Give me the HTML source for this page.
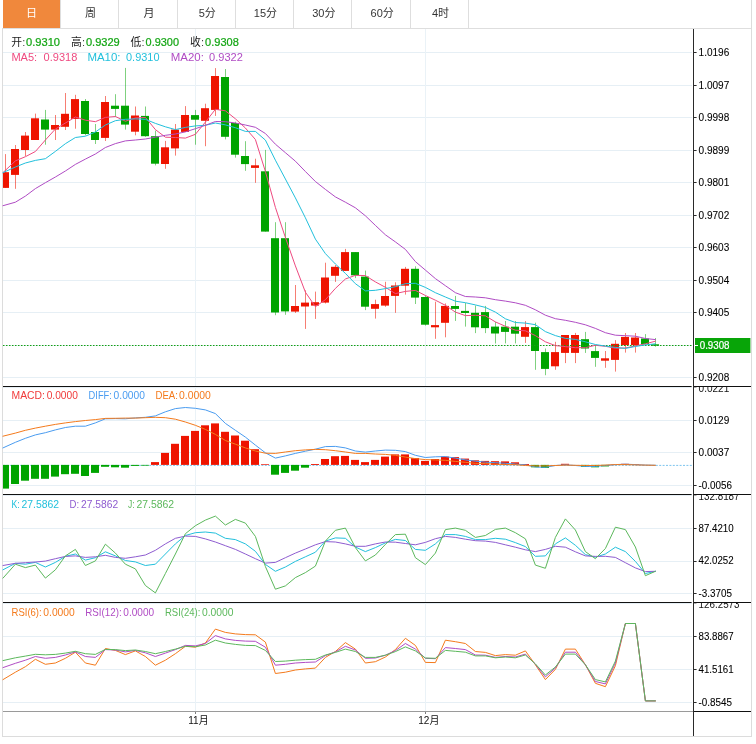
<!DOCTYPE html>
<html lang="zh-CN"><head><meta charset="utf-8"><title>K线图</title>
<style>
html,body{margin:0;padding:0;background:#fff}
body{width:756px;height:744px;overflow:hidden;position:relative;font-family:"Liberation Sans","Noto Sans CJK SC",sans-serif}
#box{position:absolute;left:2px;top:28px;width:748px;height:708px;border:1px solid #dcdcdc;border-top:none}
#rb{position:absolute;left:751px;top:0;width:1px;height:28px;background:#dcdcdc}
#tabs{position:absolute;left:3px;top:0;width:748px;height:29px;border-bottom:1px solid #dedede;box-sizing:border-box}
#tabs div{position:absolute;top:0;width:58.4px;height:28px;line-height:27px;padding-left:2px;text-align:center;font-size:11px;color:#333;border-right:1px solid #dedede;box-sizing:border-box}
#tabs div.on{background:#f0883c;color:#fff;left:0!important;width:58px;padding-left:0}
svg{position:absolute;left:0;top:0}
</style></head><body>
<div id="box"></div><div id="rb"></div>
<div id="tabs"><div class="on" style="left:-0.5px">日</div><div style="left:57.8px">周</div><div style="left:116.2px">月</div><div style="left:174.5px">5分</div><div style="left:232.8px">15分</div><div style="left:291.1px">30分</div><div style="left:349.5px">60分</div><div style="left:407.8px">4时</div></div>
<svg width="756" height="744" viewBox="0 0 756 744">
<defs>
<clipPath id="c1"><rect x="-5" y="387.1" width="70" height="20"/></clipPath>
<clipPath id="c2"><rect x="-5" y="495.1" width="70" height="20"/></clipPath>
<clipPath id="c3"><rect x="-5" y="603.1" width="70" height="20"/></clipPath>
</defs>
<g fill="#e6eff5"><rect x="3" y="52" width="689" height="1"/><rect x="3" y="85" width="689" height="1"/><rect x="3" y="117" width="689" height="1"/><rect x="3" y="150" width="689" height="1"/><rect x="3" y="182" width="689" height="1"/><rect x="3" y="215" width="689" height="1"/><rect x="3" y="247" width="689" height="1"/><rect x="3" y="280" width="689" height="1"/><rect x="3" y="312" width="689" height="1"/><rect x="3" y="345" width="689" height="1"/><rect x="3" y="377" width="689" height="1"/><rect x="3" y="387" width="689" height="1"/><rect x="3" y="420" width="689" height="1"/><rect x="3" y="452" width="689" height="1"/><rect x="3" y="485" width="689" height="1"/><rect x="3" y="495" width="689" height="1"/><rect x="3" y="528" width="689" height="1"/><rect x="3" y="561" width="689" height="1"/><rect x="3" y="593" width="689" height="1"/><rect x="3" y="603" width="689" height="1"/><rect x="3" y="636" width="689" height="1"/><rect x="3" y="669" width="689" height="1"/><rect x="3" y="702" width="689" height="1"/><rect x="195" y="29" width="1" height="682" fill="#eaf2f7"/><rect x="425" y="29" width="1" height="682" fill="#eaf2f7"/></g>
<g fill="#ee1400" fill-opacity=".55"><rect x="5" y="154.1" width="1" height="33.8"/><rect x="15" y="145" width="1" height="43.8"/><rect x="25" y="132" width="1" height="24"/><rect x="35" y="113.6" width="1" height="26.4"/><rect x="55" y="115" width="1" height="25"/><rect x="65" y="93" width="1" height="37"/><rect x="75" y="94.8" width="1" height="33.9"/><rect x="105" y="96" width="1" height="45"/><rect x="135" y="106.5" width="1" height="28.8"/><rect x="165" y="140.9" width="1" height="27.9"/><rect x="175" y="124" width="1" height="31.6"/><rect x="185" y="106.1" width="1" height="25.8"/><rect x="205" y="103.7" width="1" height="42.5"/><rect x="215" y="68.1" width="1" height="47.8"/><rect x="255" y="158.7" width="1" height="24.1"/><rect x="295" y="285" width="1" height="28"/><rect x="305" y="290.3" width="1" height="38.6"/><rect x="315" y="291.6" width="1" height="27.3"/><rect x="325" y="262.7" width="1" height="40.8"/><rect x="335" y="265" width="1" height="16.9"/><rect x="345" y="248.9" width="1" height="22"/><rect x="375" y="299.7" width="1" height="18.9"/><rect x="385" y="281.8" width="1" height="25"/><rect x="395" y="282.3" width="1" height="30.5"/><rect x="405" y="266.9" width="1" height="27.7"/><rect x="435" y="301.7" width="1" height="37.1"/><rect x="445" y="303.4" width="1" height="33.9"/><rect x="525" y="321.1" width="1" height="21.8"/><rect x="555" y="341.8" width="1" height="28"/><rect x="565" y="335" width="1" height="28.1"/><rect x="575" y="332.9" width="1" height="30.2"/><rect x="605" y="351" width="1" height="16.8"/><rect x="615" y="340.1" width="1" height="31.5"/><rect x="625" y="333" width="1" height="19.6"/><rect x="635" y="333" width="1" height="19.6"/></g>
<g fill="#00a400" fill-opacity=".5"><rect x="45" y="109.9" width="1" height="34.8"/><rect x="85" y="99" width="1" height="36.3"/><rect x="95" y="124" width="1" height="20"/><rect x="115" y="94.2" width="1" height="22.8"/><rect x="125" y="67.9" width="1" height="61.7"/><rect x="145" y="106.5" width="1" height="30.3"/><rect x="155" y="130.6" width="1" height="34.8"/><rect x="195" y="109.9" width="1" height="34.8"/><rect x="225" y="69" width="1" height="70.4"/><rect x="235" y="121.7" width="1" height="35.9"/><rect x="245" y="141.2" width="1" height="29.6"/><rect x="265" y="149.9" width="1" height="81.7"/><rect x="275" y="222.2" width="1" height="93"/><rect x="285" y="222.2" width="1" height="92.6"/><rect x="355" y="252.1" width="1" height="26"/><rect x="365" y="270.6" width="1" height="39.5"/><rect x="415" y="266.3" width="1" height="37.7"/><rect x="425" y="295.5" width="1" height="30.1"/><rect x="455" y="295.9" width="1" height="25"/><rect x="465" y="303" width="1" height="23.6"/><rect x="475" y="305.5" width="1" height="27.6"/><rect x="485" y="305.9" width="1" height="27.2"/><rect x="495" y="321.9" width="1" height="21.6"/><rect x="505" y="321" width="1" height="22.4"/><rect x="515" y="321" width="1" height="22.4"/><rect x="535" y="322.7" width="1" height="47.1"/><rect x="545" y="348.5" width="1" height="26.7"/><rect x="585" y="331.9" width="1" height="21"/><rect x="595" y="345.3" width="1" height="21.5"/><rect x="645" y="334.1" width="1" height="10.2"/><rect x="655" y="338" width="1" height="8.7"/></g>
<g fill="#ee1400"><rect x="3" y="172.2" width="6" height="15.7"/><rect x="11" y="149" width="8" height="25.9"/><rect x="21" y="135.6" width="8" height="14.4"/><rect x="31" y="118.3" width="8" height="21.7"/><rect x="51" y="125" width="8" height="4.6"/><rect x="61" y="113.8" width="8" height="13"/><rect x="71" y="99.1" width="8" height="19.8"/><rect x="101" y="102" width="8" height="35.9"/><rect x="131" y="115.5" width="8" height="16.2"/><rect x="161" y="147.3" width="8" height="16.7"/><rect x="171" y="129.6" width="8" height="18.8"/><rect x="181" y="115" width="8" height="16.9"/><rect x="201" y="108.2" width="8" height="12.6"/><rect x="211" y="76" width="8" height="33.9"/><rect x="251" y="165.3" width="8" height="2.6"/><rect x="291" y="306" width="8" height="5.6"/><rect x="301" y="302.6" width="8" height="3.9"/><rect x="311" y="302.2" width="8" height="3.4"/><rect x="321" y="277.5" width="8" height="25.1"/><rect x="331" y="266.8" width="8" height="9"/><rect x="341" y="252.1" width="8" height="18.8"/><rect x="371" y="304.1" width="8" height="4.7"/><rect x="381" y="296" width="8" height="9.6"/><rect x="391" y="285.5" width="8" height="10.4"/><rect x="401" y="268.8" width="8" height="16.9"/><rect x="431" y="325.1" width="8" height="2.2"/><rect x="441" y="305.9" width="8" height="16.9"/><rect x="521" y="327.1" width="8" height="9.7"/><rect x="551" y="352.1" width="8" height="14.2"/><rect x="561" y="335" width="8" height="17.9"/><rect x="571" y="335" width="8" height="17.9"/><rect x="601" y="358.3" width="8" height="2.4"/><rect x="611" y="343.8" width="8" height="16.1"/><rect x="621" y="336.9" width="8" height="8.2"/><rect x="631" y="337.5" width="8" height="7.6"/></g>
<g fill="#00a400"><rect x="41" y="119.5" width="8" height="10.1"/><rect x="81" y="101" width="8" height="33"/><rect x="91" y="132" width="8" height="8"/><rect x="111" y="105.7" width="8" height="3.2"/><rect x="121" y="105.7" width="8" height="18.9"/><rect x="141" y="115.9" width="8" height="20.3"/><rect x="151" y="136.2" width="8" height="27.5"/><rect x="191" y="115.1" width="8" height="4.6"/><rect x="221" y="77" width="8" height="59.8"/><rect x="231" y="123" width="8" height="31.7"/><rect x="241" y="156" width="8" height="8.1"/><rect x="261" y="171.3" width="8" height="60.3"/><rect x="271" y="238.2" width="8" height="74.3"/><rect x="281" y="238.2" width="8" height="73.2"/><rect x="351" y="252.1" width="8" height="23.2"/><rect x="361" y="276.6" width="8" height="30.1"/><rect x="411" y="268.8" width="8" height="28.8"/><rect x="421" y="297" width="8" height="27.7"/><rect x="451" y="306" width="8" height="2.9"/><rect x="461" y="310.9" width="8" height="2.1"/><rect x="471" y="312.8" width="8" height="14.5"/><rect x="481" y="312.1" width="8" height="16"/><rect x="491" y="326.6" width="8" height="6.9"/><rect x="501" y="326.7" width="8" height="5.2"/><rect x="511" y="326.7" width="8" height="7"/><rect x="531" y="327.1" width="8" height="23.9"/><rect x="541" y="352.1" width="8" height="16.8"/><rect x="581" y="339.2" width="8" height="9.3"/><rect x="591" y="351.1" width="8" height="6.8"/><rect x="641" y="338.5" width="8" height="5.8"/><rect x="651" y="344.3" width="8" height="1.4"/></g>
<line x1="3" y1="345.5" x2="693" y2="345.5" stroke="#12a012" stroke-width="1" stroke-dasharray="1.5 1.5"/>
<g fill="none" stroke-linejoin="round" stroke-linecap="round">
<polyline points="3,172.6 15.4,160.9 25.4,156.7 35.4,151.5 45.4,140 55.4,129 65.4,123 75.4,117 85.4,120.2 95.4,121.7 105.4,117.4 115.4,116.5 125.4,121.2 135.4,118 145.4,117.4 155.4,129.6 165.4,137.2 175.4,137.5 185.4,138.1 195.4,134.3 205.4,122.1 215.4,109.3 225.4,110.8 235.4,118.8 245.4,128 255.4,139.5 265.4,171.5 275.4,207.4 285.4,237.5 295.4,265.9 305.4,292.2 315.4,306.7 325.4,299.7 335.4,288.4 345.4,279 355.4,275.3 365.4,275.6 375.4,281.9 385.4,287.3 395.4,293.6 405.4,291.4 415.4,290.4 425.4,295.5 435.4,300.2 445.4,305.3 455.4,312.1 465.4,315.6 475.4,315.3 485.4,315.8 495.4,321.9 505.4,326.3 515.4,330.2 525.4,330.8 535.4,335.6 545.4,341.8 555.4,345.6 565.4,346.6 575.4,347.7 585.4,347.7 595.4,345.3 605.4,346.3 615.4,348.2 625.4,348 635.4,345.9 645.4,343.8 655.4,341.2" stroke="#ee4a80" stroke-width="1"/>
<polyline points="3,172.6 15.4,167 25.4,163 35.4,160.4 45.4,158.7 55.4,151.4 65.4,143.7 75.4,137.5 85.4,136.2 95.4,132 105.4,125 115.4,120.7 125.4,119.3 135.4,118.9 145.4,119.3 155.4,123.4 165.4,126.8 175.4,129.6 185.4,127.4 195.4,125.9 205.4,125.3 215.4,123 225.4,124.9 235.4,127.7 245.4,131.4 255.4,131.4 265.4,140.1 275.4,160.2 285.4,179 295.4,197.9 305.4,217.8 315.4,239.1 325.4,253.6 335.4,264 345.4,273.4 355.4,283.7 365.4,290.9 375.4,290.3 385.4,288.6 395.4,286.7 405.4,283.7 415.4,283.3 425.4,287.4 435.4,292.7 445.4,297 455.4,301.2 465.4,302.7 475.4,304.9 485.4,307.4 495.4,312.1 505.4,318.8 515.4,322.5 525.4,323.1 535.4,324.7 545.4,331.6 555.4,335.6 565.4,338.4 575.4,339.4 585.4,341.8 595.4,344.5 605.4,346.1 615.4,347.4 625.4,348.4 635.4,346.5 645.4,344.9 655.4,343.8" stroke="#22c0dc" stroke-width="1"/>
<polyline points="3,205.7 15.4,202.2 25.4,196.1 35.4,188.6 45.4,182.7 55.4,177 65.4,171 75.4,164.4 85.4,159.1 95.4,154 105.4,147.5 115.4,143.6 125.4,140.9 135.4,140 145.4,139 155.4,137.2 165.4,135.3 175.4,134 185.4,131.9 195.4,128.7 205.4,125.3 215.4,121.5 225.4,121.7 235.4,123 245.4,125 255.4,127.3 265.4,133.5 275.4,144.2 285.4,152.7 295.4,161.2 305.4,171.5 315.4,181.5 325.4,189.4 335.4,196.9 345.4,202.2 355.4,207.8 365.4,215.8 375.4,225.4 385.4,234.8 395.4,241.9 405.4,249.4 415.4,261.6 425.4,270.1 435.4,278.6 445.4,285.7 455.4,292.7 465.4,296.5 475.4,297 485.4,297.8 495.4,299.7 505.4,301.1 515.4,302.8 525.4,305.3 535.4,309.8 545.4,315.2 555.4,318.7 565.4,320.3 575.4,322.3 585.4,324.8 595.4,328.4 605.4,332.7 615.4,335.2 625.4,335.7 635.4,336.2 645.4,338.5 655.4,339.6" stroke="#b04cc4" stroke-width="1"/>
</g>
<line x1="3" y1="465.4" x2="693" y2="465.4" stroke="#7cc4ee" stroke-width="1" stroke-dasharray="2 1.4"/>
<g fill="#ee1400"><rect x="151" y="462.1" width="8" height="2.8"/><rect x="161" y="452.9" width="8" height="12"/><rect x="171" y="443.8" width="8" height="21.1"/><rect x="181" y="435.9" width="8" height="29"/><rect x="191" y="430.9" width="8" height="34"/><rect x="201" y="425.3" width="8" height="39.6"/><rect x="211" y="423.4" width="8" height="41.5"/><rect x="221" y="431.8" width="8" height="33.1"/><rect x="231" y="435.5" width="8" height="29.4"/><rect x="241" y="440.7" width="8" height="24.2"/><rect x="251" y="449.2" width="8" height="15.7"/><rect x="261" y="464.2" width="8" height="0.7"/><rect x="311" y="464" width="8" height="0.9"/><rect x="321" y="459" width="8" height="5.9"/><rect x="331" y="456.2" width="8" height="8.7"/><rect x="341" y="455.9" width="8" height="9"/><rect x="351" y="459.9" width="8" height="5"/><rect x="361" y="462.1" width="8" height="2.8"/><rect x="371" y="459.9" width="8" height="5"/><rect x="381" y="456.6" width="8" height="8.3"/><rect x="391" y="454.4" width="8" height="10.5"/><rect x="401" y="454.4" width="8" height="10.5"/><rect x="411" y="458.1" width="8" height="6.8"/><rect x="421" y="460.9" width="8" height="4"/><rect x="431" y="459" width="8" height="5.9"/><rect x="441" y="456.6" width="8" height="8.3"/><rect x="451" y="457.1" width="8" height="7.8"/><rect x="461" y="458.6" width="8" height="6.3"/><rect x="471" y="460.3" width="8" height="4.6"/><rect x="481" y="460.9" width="8" height="4"/><rect x="491" y="461.2" width="8" height="3.7"/><rect x="501" y="461.4" width="8" height="3.5"/><rect x="511" y="462.3" width="8" height="2.6"/><rect x="521" y="464" width="8" height="0.9"/><rect x="561" y="463.8" width="8" height="1.1"/><rect x="611" y="464.6" width="8" height="0.3"/><rect x="621" y="463.8" width="8" height="1.1"/><rect x="631" y="464.2" width="8" height="0.7"/></g>
<g fill="#00a400"><rect x="3" y="464.9" width="6" height="23.7"/><rect x="11" y="464.9" width="8" height="19.1"/><rect x="21" y="464.9" width="8" height="15.8"/><rect x="31" y="464.9" width="8" height="13.9"/><rect x="41" y="464.9" width="8" height="13.9"/><rect x="51" y="464.9" width="8" height="11.7"/><rect x="61" y="464.9" width="8" height="9.3"/><rect x="71" y="464.9" width="8" height="8.9"/><rect x="81" y="464.9" width="8" height="11.1"/><rect x="91" y="464.9" width="8" height="8"/><rect x="101" y="464.9" width="8" height="1.9"/><rect x="111" y="464.9" width="8" height="2.4"/><rect x="121" y="464.9" width="8" height="2.8"/><rect x="131" y="464.9" width="8" height="1"/><rect x="141" y="464.9" width="8" height="0.7"/><rect x="271" y="464.9" width="8" height="9.8"/><rect x="281" y="464.9" width="8" height="8"/><rect x="291" y="464.9" width="8" height="5.8"/><rect x="301" y="464.9" width="8" height="2.8"/><rect x="531" y="464.9" width="8" height="2.4"/><rect x="541" y="464.9" width="8" height="3"/><rect x="581" y="464.9" width="8" height="1.9"/><rect x="591" y="464.9" width="8" height="2.4"/><rect x="601" y="464.9" width="8" height="1.5"/></g>
<g fill="none" stroke-linejoin="round" stroke-linecap="round">
<polyline points="3,447.9 15.4,442.3 25.4,438.3 35.4,434.9 45.4,432.7 55.4,429.9 65.4,427.5 75.4,426.2 85.4,426.2 95.4,422.9 105.4,418.8 115.4,418.6 125.4,418.8 135.4,417.9 145.4,417.3 155.4,415.9 165.4,411.8 175.4,408.6 185.4,407.5 195.4,408.3 205.4,409.9 215.4,413.6 225.4,423.4 235.4,430.3 245.4,437.1 255.4,445.1 265.4,452.8 275.4,458.1 285.4,455.9 295.4,453.4 305.4,451.2 315.4,449.2 325.4,446.6 335.4,446.4 345.4,447.9 355.4,451 365.4,452.1 375.4,451 385.4,450.1 395.4,450.3 405.4,451.6 415.4,455.3 425.4,457.5 435.4,456.8 445.4,456.6 455.4,458.1 465.4,459.9 475.4,461.2 485.4,462.1 495.4,462.7 505.4,463.3 515.4,464 525.4,464.9 535.4,467 545.4,467.3 555.4,465.5 565.4,464.9 575.4,465.5 585.4,466.4 595.4,466.4 605.4,465.5 615.4,464.6 625.4,464.2 635.4,464.6 645.4,465.1 655.4,465.3" stroke="#4a9cf0" stroke-width="1"/>
<polyline points="3,436.2 15.4,433.1 25.4,430.3 35.4,428.1 45.4,426.2 55.4,424.4 65.4,422.9 75.4,421.6 85.4,420.5 95.4,419.6 105.4,418.4 115.4,418.3 125.4,418.1 135.4,418.1 145.4,417.7 155.4,417.3 165.4,417.7 175.4,419.2 185.4,422 195.4,425.3 205.4,429.4 215.4,434.4 225.4,440.5 235.4,444.2 245.4,447.9 255.4,451 265.4,453.2 275.4,453.4 285.4,452 295.4,450.7 305.4,449.9 315.4,449.4 325.4,449.7 335.4,450.7 345.4,452 355.4,453.4 365.4,453.4 375.4,454 385.4,454.4 395.4,455.3 405.4,457.1 415.4,458.6 425.4,459.6 435.4,459.9 445.4,460.3 455.4,461.4 465.4,462.3 475.4,463.3 485.4,463.6 495.4,464.2 505.4,464.6 515.4,464.7 525.4,465.5 535.4,465.9 545.4,465.9 555.4,465.5 565.4,465.1 575.4,465.3 585.4,465.5 595.4,465.5 605.4,465.1 615.4,464.6 625.4,464.6 635.4,464.9 645.4,465.1 655.4,465.3" stroke="#f47a1c" stroke-width="1"/>
<polyline points="3,569.8 15.4,563.3 25.4,564.2 35.4,562.4 45.4,567 55.4,562.4 65.4,556.3 75.4,554 85.4,560.1 95.4,557.7 105.4,551.8 115.4,555.9 125.4,560.5 135.4,561.9 145.4,565.5 155.4,564.2 165.4,554 175.4,543.9 185.4,535.5 195.4,532.7 205.4,532 215.4,533.1 225.4,538.3 235.4,539.6 245.4,543.9 255.4,551.3 265.4,564.4 275.4,571.3 285.4,567 295.4,561.4 305.4,556.8 315.4,552.2 325.4,541.1 335.4,537.9 345.4,538.3 355.4,547 365.4,551.6 375.4,547.6 385.4,542.9 395.4,539.4 405.4,540.5 415.4,549.4 425.4,550.3 435.4,543.9 445.4,534.6 455.4,534.6 465.4,536.4 475.4,539.6 485.4,539.6 495.4,538.3 505.4,539.2 515.4,542.6 525.4,546.6 535.4,556.3 545.4,555.9 555.4,543.9 565.4,537.9 575.4,545.3 585.4,554.6 595.4,557.2 605.4,554 615.4,547.2 625.4,551.6 635.4,561.4 645.4,573.5 655.4,571.3" stroke="#22c0dc" stroke-width="1"/>
<polyline points="3,565.5 15.4,563.3 25.4,562.7 35.4,562 45.4,561.1 55.4,558.7 65.4,556.4 75.4,555.9 85.4,557.4 95.4,556.8 105.4,555.3 115.4,557.4 125.4,558.3 135.4,556.8 145.4,555 155.4,550.3 165.4,543.9 175.4,538.3 185.4,536.1 195.4,536.4 205.4,538.9 215.4,542 225.4,545.7 235.4,549.4 245.4,554 255.4,558.7 265.4,563.1 275.4,562.4 285.4,557.7 295.4,553.1 305.4,549 315.4,544.8 325.4,541.6 335.4,542 345.4,543.9 355.4,546.3 365.4,546.3 375.4,543.9 385.4,542 395.4,542.2 405.4,543.5 415.4,544.8 425.4,542.4 435.4,538.7 445.4,536.4 455.4,537.4 465.4,539.2 475.4,540.7 485.4,541.1 495.4,542.4 505.4,544.8 515.4,547.2 525.4,549.8 535.4,551.6 545.4,549.4 555.4,546.3 565.4,547.2 575.4,551.8 585.4,555.9 595.4,556.4 605.4,556.3 615.4,557.4 625.4,562.7 635.4,567.9 645.4,571.6 655.4,571.3" stroke="#8e5cd0" stroke-width="1"/>
<polyline points="3,578.1 15.4,564.2 25.4,567.6 35.4,565.1 45.4,578.1 55.4,569.8 65.4,555.9 75.4,549.4 85.4,565.5 95.4,560.9 105.4,544.2 115.4,553.1 125.4,564.2 135.4,568.9 145.4,585.5 155.4,592.9 165.4,573.5 175.4,554 185.4,533.7 195.4,525.7 205.4,520.1 215.4,516.1 225.4,525 235.4,519.4 245.4,523.1 255.4,536.4 265.4,566.5 275.4,589.2 285.4,585.9 295.4,577.6 305.4,572.6 315.4,566.1 325.4,541.1 335.4,530.3 345.4,528.1 355.4,547.6 365.4,560.9 375.4,555 385.4,544.4 395.4,534.6 405.4,534.2 415.4,557.7 425.4,564.6 435.4,553.1 445.4,529.6 455.4,528.1 465.4,530.3 475.4,537.4 485.4,535.5 495.4,529.4 505.4,528.1 515.4,532.7 525.4,538.8 535.4,565.1 545.4,568.3 555.4,537.4 565.4,518.9 575.4,530 585.4,551.6 595.4,558.7 605.4,548.5 615.4,527.2 625.4,529.6 635.4,547 645.4,575.7 655.4,571.3" stroke="#5cb85c" stroke-width="1"/>
<polyline points="3,679.6 15.4,672.2 25.4,666.7 35.4,659.3 45.4,664.3 55.4,663 65.4,658.3 75.4,652.2 85.4,663 95.4,665.2 105.4,648.5 115.4,650.4 125.4,654.6 135.4,650.9 145.4,656.5 155.4,665.2 165.4,660.2 175.4,653.7 185.4,646.3 195.4,647.2 205.4,643 215.4,629.1 225.4,632.4 235.4,633.9 245.4,634.6 255.4,634.8 265.4,642.1 275.4,673.5 285.4,672.2 295.4,670 305.4,668.9 315.4,668.1 325.4,657.4 335.4,651.5 345.4,642.6 355.4,649.1 365.4,663 375.4,661.7 385.4,657 395.4,649.6 405.4,638.3 415.4,645.4 425.4,662.4 435.4,662.6 445.4,640.2 455.4,641.7 465.4,643.5 475.4,651.5 485.4,652.4 495.4,655.6 505.4,654.6 515.4,655.2 525.4,650.9 535.4,664.8 545.4,679.6 555.4,669.4 565.4,649.1 575.4,649.1 585.4,664.8 595.4,683.3 605.4,686.7 615.4,665.7 625.4,623.5 635.4,623.5 645.4,700.9 655.4,700.9" stroke="#f47a1c" stroke-width="1"/>
<polyline points="3,667.6 15.4,663.3 25.4,660.2 35.4,656.5 45.4,658.3 55.4,657.4 65.4,655 75.4,651.9 85.4,656.5 95.4,657.4 105.4,649.6 115.4,650 125.4,651.9 135.4,650.4 145.4,652.8 155.4,656.5 165.4,653.1 175.4,649.6 185.4,645.4 195.4,645.9 205.4,643.5 215.4,635.6 225.4,638.9 235.4,640.4 245.4,641.1 255.4,641.3 265.4,647.2 275.4,665.2 285.4,664.3 295.4,663 305.4,662.4 315.4,662 325.4,655.6 335.4,651.9 345.4,646.3 355.4,650 365.4,658.3 375.4,658 385.4,655.2 395.4,650.6 405.4,643.5 415.4,649.1 425.4,658.3 435.4,658.7 445.4,647.6 455.4,648.5 465.4,649.6 475.4,655 485.4,655.2 495.4,657.4 505.4,656.5 515.4,657 525.4,654.1 535.4,664.3 545.4,676.9 555.4,668 565.4,652.2 575.4,652.2 585.4,664.8 595.4,681.5 605.4,683.9 615.4,663 625.4,623.5 635.4,623.5 645.4,700.9 655.4,700.9" stroke="#b04cc4" stroke-width="1"/>
<polyline points="3,660.6 15.4,657.8 25.4,656.1 35.4,654.3 45.4,654.8 55.4,654.4 65.4,653.1 75.4,651.3 85.4,653.7 95.4,654.4 105.4,649.4 115.4,649.6 125.4,650.6 135.4,650 145.4,651.5 155.4,653.7 165.4,651.5 175.4,649.1 185.4,646.3 195.4,646.7 205.4,645 215.4,640.2 225.4,643 235.4,644.4 245.4,645.4 255.4,645.6 265.4,650.4 275.4,661.5 285.4,661.1 295.4,660.2 305.4,659.6 315.4,659.3 325.4,655 335.4,652.4 345.4,649.1 355.4,651.5 365.4,657.4 375.4,657.4 385.4,655.2 395.4,651.6 405.4,646.9 415.4,650.9 425.4,658 435.4,658.3 445.4,650.4 455.4,651.3 465.4,652.2 475.4,655.9 485.4,655.9 495.4,657.8 505.4,657 515.4,657.8 525.4,655 535.4,663.9 545.4,675 555.4,667 565.4,654.1 575.4,654.1 585.4,664.8 595.4,679.6 605.4,681.9 615.4,661.1 625.4,623.5 635.4,623.5 645.4,700.9 655.4,700.9" stroke="#5cb85c" stroke-width="1"/>
</g>
<g fill="#111">
<rect x="3" y="386" width="688.6" height="1"/><rect x="694" y="386" width="57" height="1"/>
<rect x="3" y="494" width="688.6" height="1"/><rect x="694" y="494" width="57" height="1"/>
<rect x="3" y="602" width="688.6" height="1"/><rect x="694" y="602" width="57" height="1"/>
<rect x="693" y="711" width="58" height="1"/>
</g>
<rect x="3" y="711" width="690" height="1" fill="#9a9a9a"/>
<rect x="693" y="29" width="1" height="707" fill="#2a2a2a"/>
<g fill="#2a2a2a"><rect x="694" y="52" width="2.6" height="1"/><rect x="694" y="85" width="2.6" height="1"/><rect x="694" y="117" width="2.6" height="1"/><rect x="694" y="150" width="2.6" height="1"/><rect x="694" y="182" width="2.6" height="1"/><rect x="694" y="215" width="2.6" height="1"/><rect x="694" y="247" width="2.6" height="1"/><rect x="694" y="280" width="2.6" height="1"/><rect x="694" y="312" width="2.6" height="1"/><rect x="694" y="377" width="2.6" height="1"/><rect x="694" y="420" width="2.6" height="1"/><rect x="694" y="452" width="2.6" height="1"/><rect x="694" y="485" width="2.6" height="1"/><rect x="694" y="528" width="2.6" height="1"/><rect x="694" y="561" width="2.6" height="1"/><rect x="694" y="593" width="2.6" height="1"/><rect x="694" y="636" width="2.6" height="1"/><rect x="694" y="669" width="2.6" height="1"/><rect x="694" y="702" width="2.6" height="1"/><rect x="195" y="712" width="1" height="2" fill-opacity=".6"/><rect x="425" y="712" width="1" height="2" fill-opacity=".6"/></g>
<g fill="#aaa"><rect x="694" y="387" width="2.5" height="1"/><rect x="694" y="495" width="2.5" height="1"/><rect x="694" y="603" width="2.5" height="1"/></g>
<rect x="695" y="338" width="55.4" height="15" fill="#08a508"/>
<rect x="695" y="345" width="3" height="1" fill="#fff"/>
<g font-family="'Liberation Sans',sans-serif" font-size="10" fill="#000" stroke="#000" stroke-width=".08" transform="translate(698.55,0)">
<text x="0" y="55.8" textLength="30.7" lengthAdjust="spacingAndGlyphs">1.0196</text>
<text x="0" y="88.8" textLength="30.7" lengthAdjust="spacingAndGlyphs">1.0097</text>
<text x="0" y="121.2" textLength="30.7" lengthAdjust="spacingAndGlyphs">0.9998</text>
<text x="0" y="153.7" textLength="30.7" lengthAdjust="spacingAndGlyphs">0.9899</text>
<text x="0" y="185.8" textLength="30.7" lengthAdjust="spacingAndGlyphs">0.9801</text>
<text x="0" y="218.8" textLength="30.7" lengthAdjust="spacingAndGlyphs">0.9702</text>
<text x="0" y="251" textLength="30.7" lengthAdjust="spacingAndGlyphs">0.9603</text>
<text x="0" y="283.8" textLength="30.7" lengthAdjust="spacingAndGlyphs">0.9504</text>
<text x="0" y="316.2" textLength="30.7" lengthAdjust="spacingAndGlyphs">0.9405</text>
<text x="0" y="381.2" textLength="30.7" lengthAdjust="spacingAndGlyphs">0.9208</text>
<text x="0" y="423.9" textLength="30.7" lengthAdjust="spacingAndGlyphs">0.0129</text>
<text x="0" y="455.9" textLength="30.7" lengthAdjust="spacingAndGlyphs">0.0037</text>
<text x="0" y="488.8" textLength="33.5" lengthAdjust="spacingAndGlyphs">-0.0056</text>
<text x="0" y="531.8" textLength="35.1" lengthAdjust="spacingAndGlyphs">87.4210</text>
<text x="0" y="564.1" textLength="35.1" lengthAdjust="spacingAndGlyphs">42.0252</text>
<text x="0" y="596.9" textLength="33.5" lengthAdjust="spacingAndGlyphs">-3.3705</text>
<text x="0" y="639.9" textLength="35.1" lengthAdjust="spacingAndGlyphs">83.8867</text>
<text x="0" y="673" textLength="35.1" lengthAdjust="spacingAndGlyphs">41.5161</text>
<text x="0" y="705.8" textLength="33.5" lengthAdjust="spacingAndGlyphs">-0.8545</text>
<text x="1.2" y="349.1" textLength="29.8" lengthAdjust="spacingAndGlyphs" fill="#fff" stroke="#fff" stroke-width=".2">0.9308</text>
</g>
<g font-family="'Liberation Sans',sans-serif" font-size="10" fill="#111" transform="translate(698.55,0)">
<text x="0" y="392.2" textLength="30.7" lengthAdjust="spacingAndGlyphs" clip-path="url(#c1)">0.0221</text>
<text x="0" y="500.2" textLength="41.0" lengthAdjust="spacingAndGlyphs" clip-path="url(#c2)">132.8187</text>
<text x="0" y="608.2" textLength="41.0" lengthAdjust="spacingAndGlyphs" clip-path="url(#c3)">126.2573</text>
</g>
<text x="11.2" y="46.1" textLength="10.8" lengthAdjust="spacingAndGlyphs" fill="#222" font-size="11" font-family="'Liberation Sans','Noto Sans CJK SC',sans-serif">开</text>
<text x="22.2" y="45.9" fill="#444" font-size="11" font-family="'Liberation Sans','Noto Sans CJK SC',sans-serif">:</text>
<text x="26" y="45.9" textLength="34" lengthAdjust="spacingAndGlyphs" fill="#14a614" stroke="#14a614" stroke-width=".22" font-size="11" font-family="'Liberation Sans','Noto Sans CJK SC',sans-serif">0.9310</text>
<text x="71.1" y="46.1" textLength="10.8" lengthAdjust="spacingAndGlyphs" fill="#222" font-size="11" font-family="'Liberation Sans','Noto Sans CJK SC',sans-serif">高</text>
<text x="82.1" y="45.9" fill="#444" font-size="11" font-family="'Liberation Sans','Noto Sans CJK SC',sans-serif">:</text>
<text x="85.9" y="45.9" textLength="33.9" lengthAdjust="spacingAndGlyphs" fill="#14a614" stroke="#14a614" stroke-width=".22" font-size="11" font-family="'Liberation Sans','Noto Sans CJK SC',sans-serif">0.9329</text>
<text x="130.6" y="46.1" textLength="10.8" lengthAdjust="spacingAndGlyphs" fill="#222" font-size="11" font-family="'Liberation Sans','Noto Sans CJK SC',sans-serif">低</text>
<text x="141.6" y="45.9" fill="#444" font-size="11" font-family="'Liberation Sans','Noto Sans CJK SC',sans-serif">:</text>
<text x="145.6" y="45.9" textLength="33.4" lengthAdjust="spacingAndGlyphs" fill="#14a614" stroke="#14a614" stroke-width=".22" font-size="11" font-family="'Liberation Sans','Noto Sans CJK SC',sans-serif">0.9300</text>
<text x="190.1" y="46.1" textLength="10.8" lengthAdjust="spacingAndGlyphs" fill="#222" font-size="11" font-family="'Liberation Sans','Noto Sans CJK SC',sans-serif">收</text>
<text x="201.1" y="45.9" fill="#444" font-size="11" font-family="'Liberation Sans','Noto Sans CJK SC',sans-serif">:</text>
<text x="205.1" y="45.9" textLength="33.7" lengthAdjust="spacingAndGlyphs" fill="#14a614" stroke="#14a614" stroke-width=".22" font-size="11" font-family="'Liberation Sans','Noto Sans CJK SC',sans-serif">0.9308</text>
<text x="11.4" y="60.6" textLength="25.8" lengthAdjust="spacingAndGlyphs" fill="#ee4a80" font-size="11" font-family="'Liberation Sans',sans-serif" xml:space="preserve">MA5:</text>
<text x="43.6" y="60.6" textLength="33.7" lengthAdjust="spacingAndGlyphs" fill="#ee4a80" font-size="11" font-family="'Liberation Sans',sans-serif" xml:space="preserve">0.9318</text>
<text x="87.4" y="60.6" textLength="33.1" lengthAdjust="spacingAndGlyphs" fill="#22c0dc" font-size="11" font-family="'Liberation Sans',sans-serif" xml:space="preserve">MA10:</text>
<text x="126" y="60.6" textLength="33.5" lengthAdjust="spacingAndGlyphs" fill="#22c0dc" font-size="11" font-family="'Liberation Sans',sans-serif" xml:space="preserve">0.9310</text>
<text x="170.8" y="60.6" textLength="33.1" lengthAdjust="spacingAndGlyphs" fill="#b04cc4" font-size="11" font-family="'Liberation Sans',sans-serif" xml:space="preserve">MA20:</text>
<text x="209.1" y="60.6" textLength="33.8" lengthAdjust="spacingAndGlyphs" fill="#b04cc4" font-size="11" font-family="'Liberation Sans',sans-serif" xml:space="preserve">0.9322</text>
<text x="11.5" y="398.8" textLength="33.4" lengthAdjust="spacingAndGlyphs" fill="#f03a3a" font-size="10.3" font-family="'Liberation Sans',sans-serif" xml:space="preserve">MACD:</text>
<text x="46.7" y="398.8" textLength="31.2" lengthAdjust="spacingAndGlyphs" fill="#f03a3a" font-size="10.3" font-family="'Liberation Sans',sans-serif" xml:space="preserve">0.0000</text>
<text x="88.6" y="398.8" textLength="23.3" lengthAdjust="spacingAndGlyphs" fill="#4a9cf0" font-size="10.3" font-family="'Liberation Sans',sans-serif" xml:space="preserve">DIFF:</text>
<text x="113.6" y="398.8" textLength="31.3" lengthAdjust="spacingAndGlyphs" fill="#4a9cf0" font-size="10.3" font-family="'Liberation Sans',sans-serif" xml:space="preserve">0.0000</text>
<text x="155.5" y="398.8" textLength="22.4" lengthAdjust="spacingAndGlyphs" fill="#f47a1c" font-size="10.3" font-family="'Liberation Sans',sans-serif" xml:space="preserve">DEA:</text>
<text x="179.1" y="398.8" textLength="31.8" lengthAdjust="spacingAndGlyphs" fill="#f47a1c" font-size="10.3" font-family="'Liberation Sans',sans-serif" xml:space="preserve">0.0000</text>
<text x="11.5" y="507.6" textLength="8.2" lengthAdjust="spacingAndGlyphs" fill="#22c0dc" font-size="10.3" font-family="'Liberation Sans',sans-serif" xml:space="preserve">K:</text>
<text x="21.5" y="507.6" textLength="37.6" lengthAdjust="spacingAndGlyphs" fill="#22c0dc" font-size="10.3" font-family="'Liberation Sans',sans-serif" xml:space="preserve">27.5862</text>
<text x="69.6" y="507.6" textLength="9.6" lengthAdjust="spacingAndGlyphs" fill="#8e5cd0" font-size="10.3" font-family="'Liberation Sans',sans-serif" xml:space="preserve">D:</text>
<text x="81" y="507.6" textLength="37.1" lengthAdjust="spacingAndGlyphs" fill="#8e5cd0" font-size="10.3" font-family="'Liberation Sans',sans-serif" xml:space="preserve">27.5862</text>
<text x="128.1" y="507.6" textLength="6.6" lengthAdjust="spacingAndGlyphs" fill="#5cb85c" font-size="10.3" font-family="'Liberation Sans',sans-serif" xml:space="preserve">J:</text>
<text x="136.5" y="507.6" textLength="37.6" lengthAdjust="spacingAndGlyphs" fill="#5cb85c" font-size="10.3" font-family="'Liberation Sans',sans-serif" xml:space="preserve">27.5862</text>
<text x="11.5" y="615.6" textLength="30.2" lengthAdjust="spacingAndGlyphs" fill="#f47a1c" font-size="10.3" font-family="'Liberation Sans',sans-serif" xml:space="preserve">RSI(6):</text>
<text x="43.3" y="615.6" textLength="31.5" lengthAdjust="spacingAndGlyphs" fill="#f47a1c" font-size="10.3" font-family="'Liberation Sans',sans-serif" xml:space="preserve">0.0000</text>
<text x="85.2" y="615.6" textLength="36.5" lengthAdjust="spacingAndGlyphs" fill="#b04cc4" font-size="10.3" font-family="'Liberation Sans',sans-serif" xml:space="preserve">RSI(12):</text>
<text x="123.3" y="615.6" textLength="30.8" lengthAdjust="spacingAndGlyphs" fill="#b04cc4" font-size="10.3" font-family="'Liberation Sans',sans-serif" xml:space="preserve">0.0000</text>
<text x="164.9" y="615.6" textLength="35.5" lengthAdjust="spacingAndGlyphs" fill="#5cb85c" font-size="10.3" font-family="'Liberation Sans',sans-serif" xml:space="preserve">RSI(24):</text>
<text x="202" y="615.6" textLength="31.5" lengthAdjust="spacingAndGlyphs" fill="#5cb85c" font-size="10.3" font-family="'Liberation Sans',sans-serif" xml:space="preserve">0.0000</text>
<text x="188.3" y="724.3" fill="#111" font-size="10" font-family="'Liberation Sans','Noto Sans CJK SC',sans-serif">11月</text>
<text x="418.3" y="724.3" fill="#111" font-size="10" font-family="'Liberation Sans','Noto Sans CJK SC',sans-serif">12月</text>
</svg>
</body></html>
